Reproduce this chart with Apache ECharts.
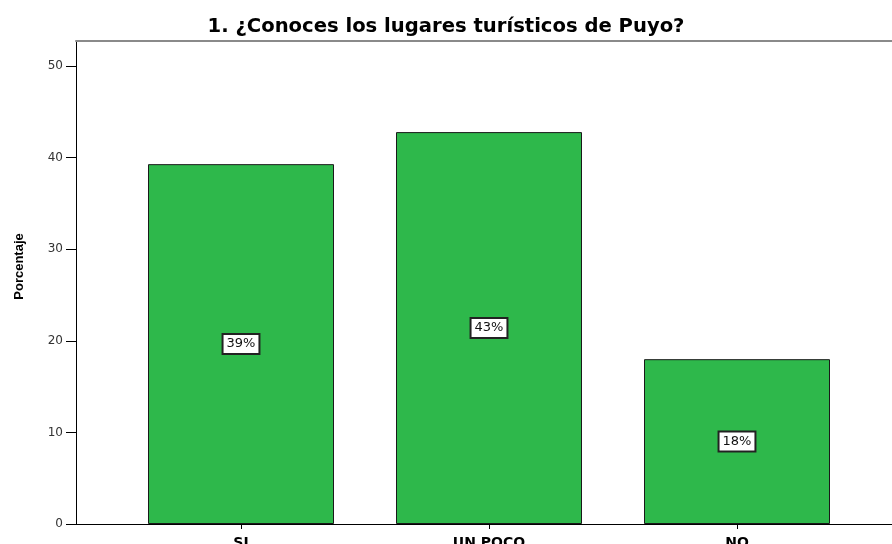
<!DOCTYPE html>
<html>
<head>
<meta charset="utf-8">
<script src="https://cdn.jsdelivr.net/npm/echarts@6/dist/echarts.min.js"></script>
<style>
  html, body { margin: 0; padding: 0; background: #fff; }
  #chart { width: 892px; height: 544px; }
</style>
</head>
<body>
<div id="chart"></div>
<script>
// Survey answers and their percentages
const categories = ['SI', 'UN POCO', 'NO'];
const percentages = [39.3, 42.8, 18.0];
const yTicks = [0, 10, 20, 30, 40, 50];

const chart = echarts.init(document.getElementById('chart'));
const arial = 'Arial, "Liberation Sans", sans-serif';
const wide = '"DejaVu Sans", Verdana, sans-serif';
const yMax = 52.75;

chart.setOption({
  animation: false,
  backgroundColor: '#ffffff',
  title: {
    text: '1. ¿Conoces los lugares turísticos de Puyo?',
    left: 441, top: 12, textAlign: 'center',
    textStyle: { fontFamily: wide, fontSize: 19.6, fontWeight: 'bold', color: '#000' }
  },
  grid: [
    // frame: y axis, baseline and top border
    { left: 76, top: 41, right: 0, bottom: 20, outerBoundsMode: 'none' },
    // bar area
    { left: 117, top: 41, width: 744, bottom: 20, outerBoundsMode: 'none' }
  ],
  xAxis: [
    {
      gridIndex: 0, type: 'value', min: 0, max: 1,
      axisLine: { show: true, lineStyle: { color: '#000', width: 1 } },
      axisTick: { show: false }, axisLabel: { show: false }, splitLine: { show: false }
    },
    {
      gridIndex: 0, type: 'value', min: 0, max: 1, position: 'top',
      axisLine: { show: true, lineStyle: { color: '#8a8a8a', width: 2 } },
      axisTick: { show: false }, axisLabel: { show: false }, splitLine: { show: false }
    },
    {
      gridIndex: 1, type: 'category', data: categories,
      axisLine: { show: false },
      axisTick: { show: true, alignWithLabel: true, length: 5, lineStyle: { color: '#000' } },
      axisLabel: { fontFamily: wide, fontSize: 14, fontWeight: 'bold', color: '#000', margin: 12 }
    }
  ],
  yAxis: [
    {
      gridIndex: 0, type: 'value', min: 0, max: yMax,
      name: 'Porcentaje', nameLocation: 'middle', nameGap: 50, nameRotate: 90,
      nameTextStyle: { fontFamily: arial, fontSize: 13, fontWeight: 'bold', color: '#000', padding: [0, 0, 0, 32] },
      axisLine: { show: true, lineStyle: { color: '#000', width: 1 } },
      axisTick: { show: true, length: 10, customValues: yTicks, lineStyle: { color: '#000' } },
      axisLabel: { fontFamily: wide, fontSize: 12, color: '#333', margin: 13, customValues: yTicks },
      splitLine: { show: false }
    },
    {
      gridIndex: 1, type: 'value', min: 0, max: yMax,
      show: false, splitLine: { show: false }
    }
  ],
  series: [{
    type: 'bar',
    xAxisIndex: 2, yAxisIndex: 1,
    data: percentages,
    barWidth: 186,
    itemStyle: { color: '#2eb84b', borderColor: '#1a1a1a', borderWidth: 1 },
    label: {
      show: true, position: 'inside',
      formatter: p => Math.round(p.value) + '%',
      fontFamily: wide, fontSize: 13, color: '#111',
      backgroundColor: '#fff', borderColor: '#222', borderWidth: 2,
      padding: [3, 3, 2, 3]
    }
  }]
});
</script>
</body>
</html>
